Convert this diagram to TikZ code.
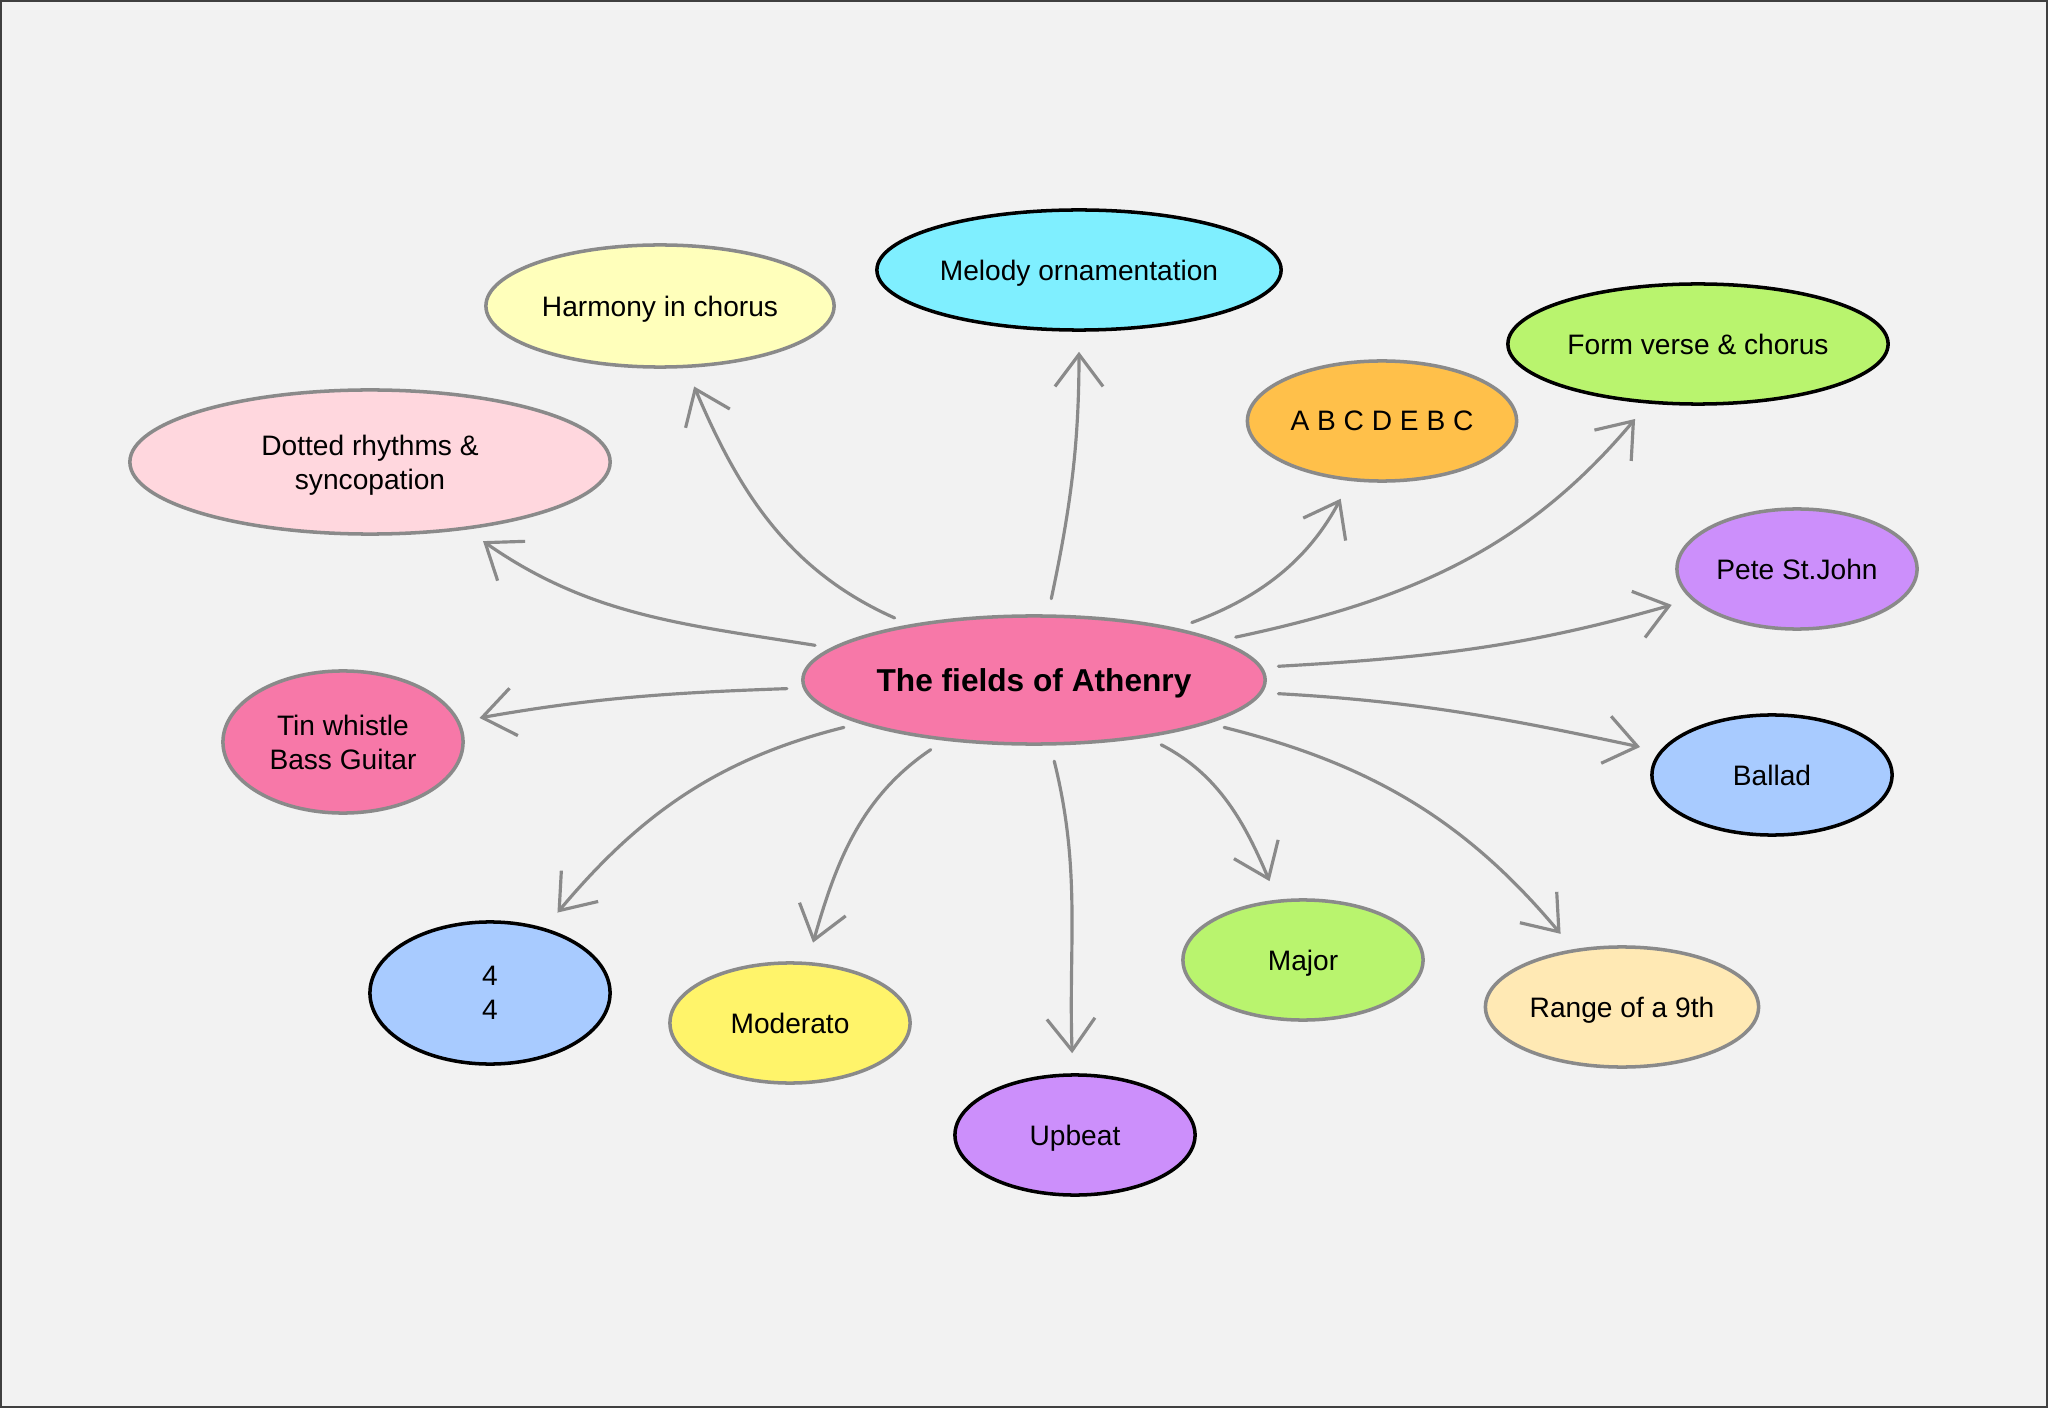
\documentclass[tikz,border=0pt]{standalone}
\usepackage{fontspec}
\setmainfont{Liberation Sans}
\usetikzlibrary{arrows.meta,shapes.geometric}
\definecolor{paper}{RGB}{242,242,242}
\definecolor{rimgray}{RGB}{138,138,138}
\definecolor{hubpink}{RGB}{247,120,168}
\definecolor{melcyan}{RGB}{127,239,255}
\definecolor{harmyellow}{RGB}{255,255,187}
\definecolor{dotpink}{RGB}{255,215,222}
\definecolor{formorange}{RGB}{255,192,74}
\definecolor{leafgreen}{RGB}{185,244,110}
\definecolor{lilac}{RGB}{204,143,251}
\definecolor{skyblue}{RGB}{168,203,255}
\definecolor{cream}{RGB}{255,233,180}
\definecolor{lemon}{RGB}{255,244,106}

\begin{document}
\begin{tikzpicture}[x=0.01cm, y=0.01cm,
  font=\fontsize{8}{9.6}\selectfont,
  >={Straight Barb[length=3.2mm,width=4.8mm]},
  bubble/.style={ellipse, draw=rimgray, line width=1pt, inner sep=0pt,
    align=center, text depth=0pt},
  dark/.style={draw=black},
  link/.style={->, rimgray, line width=0.9pt, line cap=round, line join=round,
    shorten <=1.6mm, shorten >=2mm}]

  %% ── Paper ───────────────────────────────────────────────────────
  \useasboundingbox (0,0) rectangle (2048,1408);
  \fill[paper] (0,0) rectangle (2048,1408);
  \draw[black!75, line width=0.6pt] (1,1) rectangle (2047,1407);

  %% ── Central topic ───────────────────────────────────────────────
  \node[bubble, fill=hubpink, minimum width=4.62cm, minimum height=1.28cm,
    font=\fontsize{9}{11}\selectfont\bfseries] (hub) at (1034,728)
    {The fields of Athenry};

  %% ── Upper ring ──────────────────────────────────────────────────
  \node[bubble, fill=dotpink, minimum width=4.8cm, minimum height=1.44cm]
    (dotted) at (370,946) {Dotted rhythms \&\\syncopation};
  \node[bubble, fill=harmyellow, minimum width=3.48cm, minimum height=1.22cm]
    (harmony) at (660,1102) {Harmony in chorus};
  \node[bubble, dark, fill=melcyan, minimum width=4.04cm, minimum height=1.2cm]
    (melody) at (1079,1138) {Melody ornamentation};
  \node[bubble, fill=formorange, minimum width=2.69cm, minimum height=1.2cm]
    (abc) at (1382,987) {A B C D E B C};
  \node[bubble, dark, fill=leafgreen, minimum width=3.8cm, minimum height=1.2cm]
    (form) at (1698,1064) {Form verse \& chorus};
  \node[bubble, fill=lilac, minimum width=2.4cm, minimum height=1.2cm]
    (pete) at (1797,839) {Pete St.John};

  %% ── Lower ring ──────────────────────────────────────────────────
  \node[bubble, dark, fill=skyblue, minimum width=2.4cm, minimum height=1.2cm]
    (ballad) at (1772,633) {Ballad};
  \node[bubble, fill=cream, minimum width=2.73cm, minimum height=1.2cm]
    (range) at (1622,401) {Range of a 9th};
  \node[bubble, fill=leafgreen, minimum width=2.4cm, minimum height=1.2cm]
    (major) at (1303,448) {Major};
  \node[bubble, dark, fill=lilac, minimum width=2.4cm, minimum height=1.2cm]
    (upbeat) at (1075,273) {Upbeat};
  \node[bubble, fill=lemon, minimum width=2.4cm, minimum height=1.2cm]
    (moderato) at (790,385) {Moderato};
  \node[bubble, dark, fill=skyblue, minimum width=2.4cm, minimum height=1.42cm]
    (meter) at (490,415) {4\\4};
  \node[bubble, fill=hubpink, minimum width=2.4cm, minimum height=1.42cm]
    (tin) at (343,666) {Tin whistle\\Bass Guitar};

  %% ── Spokes: leaf / out angle at hub / in angle at leaf ──────────
  \foreach \leaf/\aout/\ain in {dotted/171/-35, tin/182/10, harmony/156/-67,
                                melody/78/-90, abc/20/-118, form/12/-130,
                                pete/3.5/196, ballad/-3.5/168, range/-14/130,
                                major/-27/113, upbeat/-76/92, moderato/214/74,
                                meter/194/50}{
    \draw[link] (hub) to[out=\aout, in=\ain] (\leaf);
  }

\end{tikzpicture}
\end{document}
